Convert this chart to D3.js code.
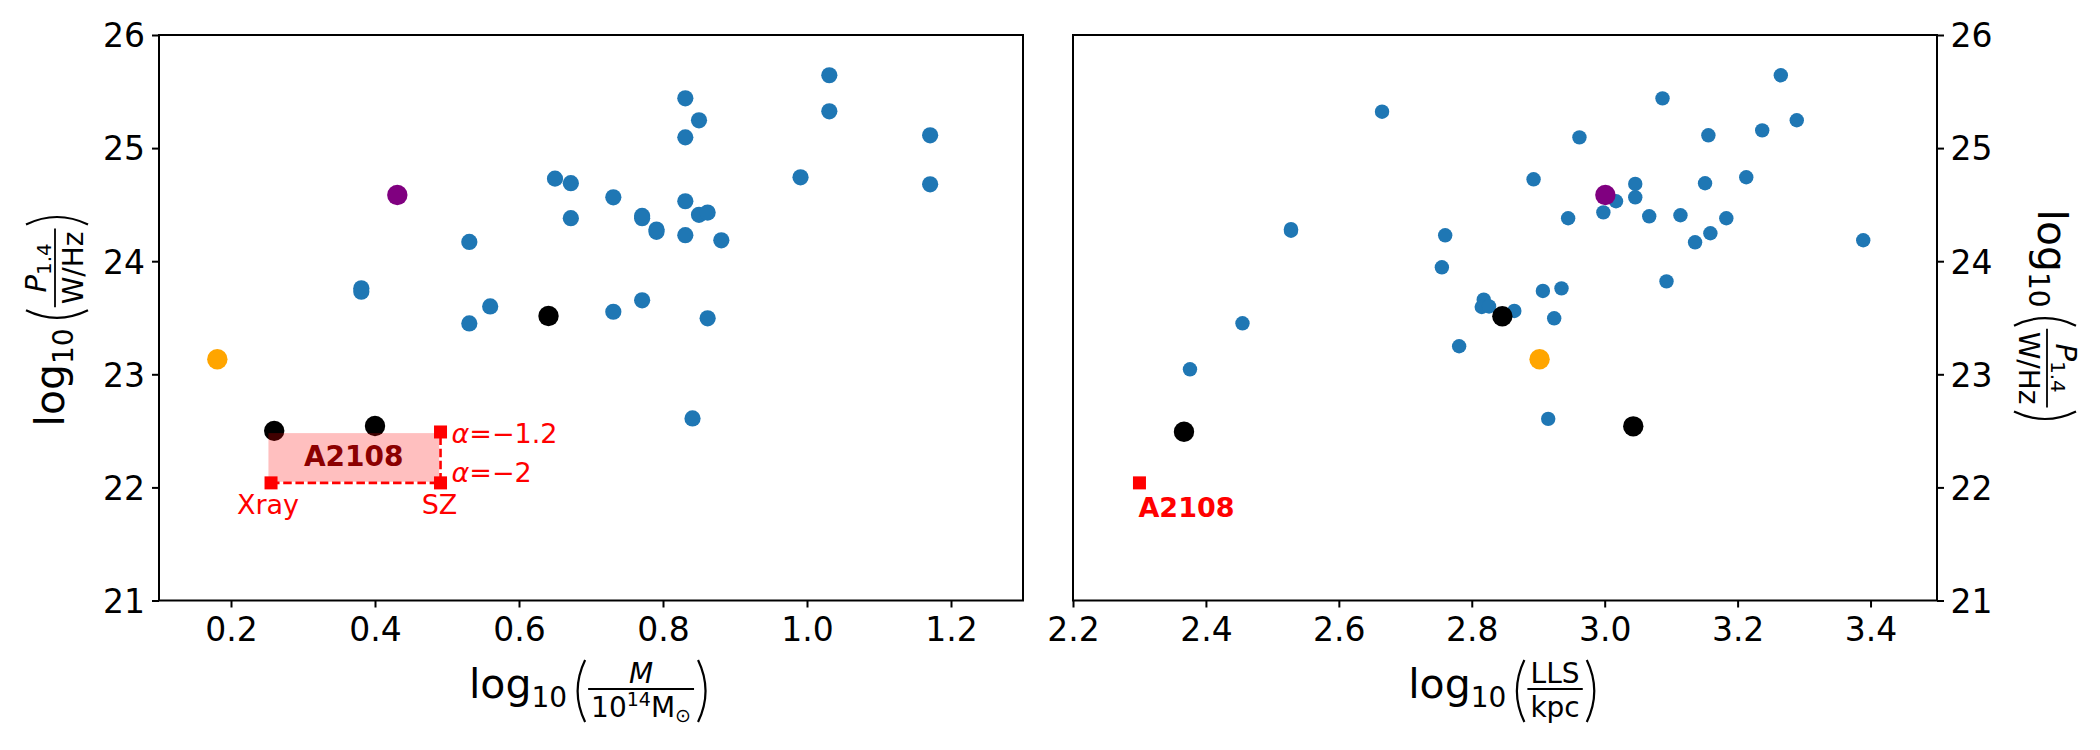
<!DOCTYPE html>
<html>
<head>
<meta charset="utf-8">
<script src="https://cdn.jsdelivr.net/npm/d3@7"></script>
<style>
  body { margin: 0; background: #fff; }
  svg { display: block; font-family: "DejaVu Sans", sans-serif; }
</style>
</head>
<body>
<div id="chart"></div>
<script>
// ---- data ----
// left panel: log10(M / 1e14 Msun) vs log10(P1.4)
const massBlue = [0.65, 0.672, 0.672, 0.531, 0.381, 0.381, 0.56, 0.531, 1.031, 1.031,
    0.831, 0.85, 0.831, 1.171, 0.991, 1.171, 0.731, 0.831, 0.771, 0.771,
    0.85, 0.862, 0.791, 0.791, 0.831, 0.881, 0.731, 0.771, 0.862, 0.841];
const massBluePower = [24.73, 24.69, 24.38, 24.17, 23.76, 23.73, 23.60, 23.45, 25.644, 25.325,
    25.44, 25.246, 25.095, 25.113, 24.742, 24.68, 24.565, 24.53, 24.40, 24.38,
    24.41, 24.43, 24.28, 24.26, 24.23, 24.185, 23.553, 23.654, 23.495, 22.61];
const massBlack = [0.26, 0.40, 0.641];
const massBlackPower = [22.50, 22.543, 23.515];
const massPurple = [0.431], massPurplePower = [24.585];
const massOrange = [0.181], massOrangePower = [23.133];

// right panel: log10(LLS / kpc) vs log10(P1.4)
const llsBlue = [2.665, 2.528, 2.528, 2.455, 2.376, 2.893, 2.76, 2.755, 2.818, 2.815,
    2.826, 2.864, 2.781, 2.907, 3.265, 3.087, 3.289, 3.237, 3.156, 2.962,
    3.213, 3.151, 3.046, 3.046, 3.017, 2.998, 2.945, 3.067, 3.114, 3.183,
    3.159, 3.136, 3.389, 3.093, 2.935, 2.924, 2.915];
const llsBluePower = [25.322, 24.283, 24.269, 23.451, 23.044, 24.724, 24.229, 23.946, 23.66, 23.595,
    23.60, 23.56, 23.248, 23.737, 25.644, 25.44, 25.246, 25.157, 25.113, 25.095,
    24.742, 24.689, 24.683, 24.565, 24.53, 24.432, 24.38, 24.397, 24.406, 24.38,
    24.247, 24.167, 24.185, 23.822, 23.76, 23.495, 22.606];
const llsBlack = [2.367, 2.846, 3.043];
const llsBlackPower = [22.492, 23.513, 22.54];
const llsPurple = [3.001], llsPurplePower = [24.585];
const llsOrange = [2.902], llsOrangePower = [23.133];

// A2108 estimates
const a2108Mass = { xray: 0.2556, sz: 0.491 };
const a2108Power = { alpha2: 22.04, alpha12: 22.49 };
const a2108Band = { x: [0.252, 0.489], y: [22.05, 22.48] };
const a2108LLS = 2.3;

const massTicks = [0.2, 0.4, 0.6, 0.8, 1.0, 1.2];
const llsTicks = [2.2, 2.4, 2.6, 2.8, 3.0, 3.2, 3.4];
const powerTicks = [21, 22, 23, 24, 25, 26];

// ---- layout ----
const width = 2100, height = 750;
const plotTop = 35, plotBottom = 600.5;

const svg = d3.select("#chart").append("svg")
    .attr("width", width)
    .attr("height", height);
svg.append("rect").attr("width", width).attr("height", height).attr("fill", "#fff");

const yPower = d3.scaleLinear().domain([21, 26]).range([plotBottom, plotTop]);
const xMass = d3.scaleLinear().domain([0.1, 1.3]).range([159, 1023]);
const xLLS = d3.scaleLinear().domain([2.2, 3.5]).range([1073, 1937]);

const blue = "#1f77b4";

function drawDots(xs, ys, xScale, r, color) {
    svg.append("g").selectAll("circle")
        .data(xs)
        .enter().append("circle")
        .attr("cx", d => xScale(d))
        .attr("cy", (d, i) => yPower(ys[i]))
        .attr("r", r)
        .attr("fill", color);
}

// left panel points
drawDots(massBlue, massBluePower, xMass, 8.1, blue);
drawDots(massBlack, massBlackPower, xMass, 10.2, "#000");
drawDots(massPurple, massPurplePower, xMass, 10.2, "#800080");
drawDots(massOrange, massOrangePower, xMass, 10.2, "#ffa500");

// right panel points
drawDots(llsBlue, llsBluePower, xLLS, 7.2, blue);
drawDots(llsBlack, llsBlackPower, xLLS, 10.2, "#000");
drawDots(llsPurple, llsPurplePower, xLLS, 10.2, "#800080");
drawDots(llsOrange, llsOrangePower, xLLS, 10.2, "#ffa500");

// A2108 band on the mass panel
svg.append("rect")
    .attr("x", xMass(a2108Band.x[0]))
    .attr("y", yPower(a2108Band.y[1]))
    .attr("width", xMass(a2108Band.x[1]) - xMass(a2108Band.x[0]))
    .attr("height", yPower(a2108Band.y[0]) - yPower(a2108Band.y[1]))
    .attr("fill", "rgba(255,0,0,0.25)");

svg.append("path")
    .attr("d", `M${xMass(a2108Mass.xray)},${yPower(a2108Power.alpha2)} H${xMass(a2108Mass.sz)} V${yPower(a2108Power.alpha12)}`)
    .attr("fill", "none")
    .attr("stroke", "red")
    .attr("stroke-width", 2.6)
    .attr("stroke-dasharray", "8.5,3.7");

const sq = 13;
[[a2108Mass.xray, a2108Power.alpha2], [a2108Mass.sz, a2108Power.alpha2], [a2108Mass.sz, a2108Power.alpha12]]
    .forEach(([mx, p]) => {
        svg.append("rect")
            .attr("x", xMass(mx) - sq / 2).attr("y", yPower(p) - sq / 2)
            .attr("width", sq).attr("height", sq)
            .attr("fill", "red");
    });

svg.append("text")
    .attr("x", xMass((a2108Band.x[0] + a2108Band.x[1]) / 2))
    .attr("y", yPower((a2108Band.y[0] + a2108Band.y[1]) / 2) + 9)
    .attr("text-anchor", "middle")
    .attr("font-size", 28).attr("font-weight", "bold")
    .attr("fill", "#8b0000")
    .text("A2108");

svg.append("text")
    .attr("x", xMass(a2108Mass.xray) - 3).attr("y", yPower(a2108Power.alpha2) + 31)
    .attr("text-anchor", "middle").attr("font-size", 27).attr("fill", "red")
    .text("Xray");
svg.append("text")
    .attr("x", xMass(a2108Mass.sz) - 1).attr("y", yPower(a2108Power.alpha2) + 31)
    .attr("text-anchor", "middle").attr("font-size", 27).attr("fill", "red")
    .text("SZ");

function alphaText(y, val) {
    const t = svg.append("text")
        .attr("x", xMass(a2108Mass.sz) + 11).attr("y", y)
        .attr("font-size", 27).attr("fill", "red");
    t.append("tspan").attr("font-style", "italic").text("α");
    t.append("tspan").text("=\u2212" + val);
}
alphaText(yPower(a2108Power.alpha12) + 11, "1.2");
alphaText(yPower(a2108Power.alpha2) - 1, "2");

// A2108 on the LLS panel
svg.append("rect")
    .attr("x", xLLS(a2108LLS) - sq / 2).attr("y", yPower(a2108Power.alpha2) - sq / 2)
    .attr("width", sq).attr("height", sq)
    .attr("fill", "red");
svg.append("text")
    .attr("x", xLLS(a2108LLS) - 1).attr("y", yPower(a2108Power.alpha2) + 34)
    .attr("font-size", 27).attr("font-weight", "bold").attr("fill", "red")
    .text("A2108");

// ---- axes ----
function styleAxis(sel) {
    sel.attr("font-size", 33).attr("font-family", "DejaVu Sans");
    sel.select(".domain").remove();
    sel.selectAll(".tick line").attr("stroke", "#000").attr("stroke-width", 2);
    sel.selectAll(".tick text").attr("fill", "#000");
}

svg.append("g")
    .attr("transform", `translate(0,${plotBottom})`)
    .call(d3.axisBottom(xMass).tickValues(massTicks).tickFormat(d3.format(".1f")).tickSize(7).tickPadding(10))
    .call(styleAxis);
svg.append("g")
    .attr("transform", `translate(0,${plotBottom})`)
    .call(d3.axisBottom(xLLS).tickValues(llsTicks).tickFormat(d3.format(".1f")).tickSize(7).tickPadding(10))
    .call(styleAxis);
svg.append("g")
    .attr("transform", `translate(${xMass.range()[0]},0)`)
    .call(d3.axisLeft(yPower).tickValues(powerTicks).tickFormat(d3.format("d")).tickSize(7).tickPadding(7))
    .call(styleAxis)
    .selectAll(".tick text").attr("dy", "0.36em");
svg.append("g")
    .attr("transform", `translate(${xLLS.range()[1]},0)`)
    .call(d3.axisRight(yPower).tickValues(powerTicks).tickFormat(d3.format("d")).tickSize(7).tickPadding(6.5))
    .call(styleAxis)
    .selectAll(".tick text").attr("dy", "0.36em");

// spines
[xMass, xLLS].forEach(xs => {
    svg.append("rect")
        .attr("x", xs.range()[0]).attr("y", plotTop)
        .attr("width", xs.range()[1] - xs.range()[0])
        .attr("height", plotBottom - plotTop)
        .attr("fill", "none")
        .attr("stroke", "#000")
        .attr("stroke-width", 2);
});

// ---- math-style axis labels ----
function addPieces(g, x, pieces) {
    pieces.forEach(p => {
        const t = g.append("text")
            .attr("x", x).attr("y", p.dy || 0)
            .attr("font-size", p.fs)
            .attr("font-style", p.it ? "italic" : "normal")
            .text(p.t);
        x += t.node().getComputedTextLength() + (p.gap || 0);
    });
    return x;
}

function paren(g, x, closing) {
    const top = -38, bot = 24, mid = (top + bot) / 2;
    const d = closing
        ? `M${x + 2},${top} Q${x + 17},${mid} ${x + 2},${bot}`
        : `M${x + 14},${top} Q${x - 1},${mid} ${x + 14},${bot}`;
    g.append("path").attr("d", d)
        .attr("fill", "none").attr("stroke", "#000").attr("stroke-width", 2.2);
}

function mathLabel(num, den) {
    const g = svg.append("g");
    let x = addPieces(g, 0, [{ t: "log", fs: 41 }, { t: "10", fs: 28, dy: 9 }]);
    x += 4;
    paren(g, x, false);
    x += 17;
    const ng = g.append("g"), dg = g.append("g");
    const nw = addPieces(ng, 0, num), dw = addPieces(dg, 0, den);
    const fw = Math.max(nw, dw) + 6;
    ng.attr("transform", `translate(${x + (fw - nw) / 2},0)`);
    dg.attr("transform", `translate(${x + (fw - dw) / 2},0)`);
    g.append("line")
        .attr("x1", x).attr("x2", x + fw)
        .attr("y1", -9).attr("y2", -9)
        .attr("stroke", "#000").attr("stroke-width", 1.8);
    x += fw + 2;
    paren(g, x, true);
    x += 17;
    return { g, w: x };
}

const powerNum = [{ t: "P", fs: 29, it: true, dy: -18 }, { t: "1.4", fs: 20, dy: -13 }];
const powerDen = [{ t: "W/Hz", fs: 28, dy: 19 }];

const massLabel = mathLabel(
    [{ t: "M", fs: 28, it: true, dy: -15 }],
    [{ t: "10", fs: 28, dy: 19 }, { t: "14", fs: 19, dy: 8 }, { t: "M", fs: 28, dy: 19 }, { t: "\u2299", fs: 19, dy: 24 }]
);
massLabel.g.attr("transform", `translate(${591 - massLabel.w / 2},698)`);

const llsLabel = mathLabel(
    [{ t: "LLS", fs: 28, dy: -15 }],
    [{ t: "kpc", fs: 28, dy: 19 }]
);
llsLabel.g.attr("transform", `translate(${1505 - llsLabel.w / 2},698)`);

const powerLeft = mathLabel(powerNum, powerDen);
powerLeft.g.attr("transform", `translate(64,${318 + powerLeft.w / 2}) rotate(-90)`);

const powerRight = mathLabel(powerNum, powerDen);
powerRight.g.attr("transform", `translate(2038,${318 - powerRight.w / 2}) rotate(90)`);
</script>
</body>
</html>
